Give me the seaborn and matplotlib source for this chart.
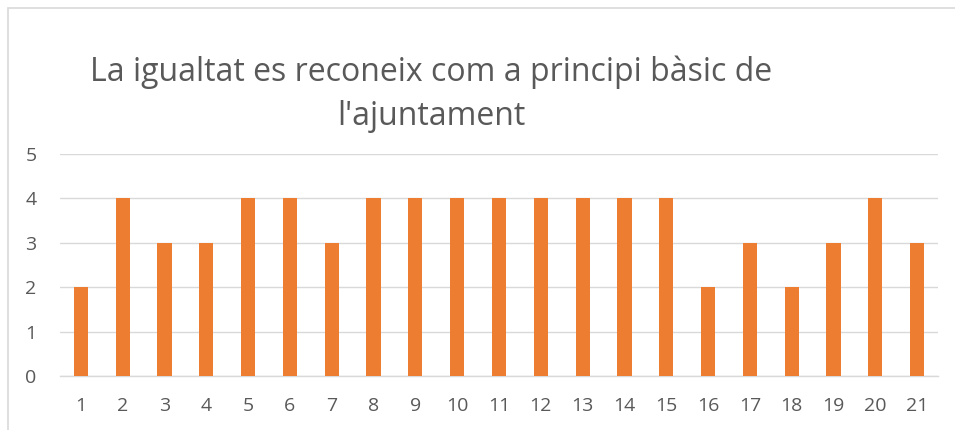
import matplotlib
matplotlib.use("Agg")
import matplotlib.pyplot as plt
import seaborn as sns
import pandas as pd
from matplotlib.patches import Rectangle

categories = [str(i) for i in range(1, 22)]
values = [2, 4, 3, 3, 4, 4, 3, 4, 4, 4, 4, 4, 4, 4, 4, 2, 3, 2, 3, 4, 3]
title_lines = ["La igualtat es reconeix com a principi bàsic de", "l'ajuntament"]

sns.set_theme(style="white")
plt.rcParams['font.family'] = ['Open Sans', 'DejaVu Sans']

df = pd.DataFrame({"cat": categories, "val": values})

fig = plt.figure(figsize=(9.55, 4.3), dpi=100)
ax = fig.add_axes([60/955, 1-376/430, (938-60)/955, (376-154)/430])

sns.barplot(data=df, x="cat", y="val", color="#ED7D31", saturation=1, width=0.34,
            linewidth=0, ax=ax, zorder=3)

ax.set_ylim(0, 5)
ax.set_yticks(range(0, 6))
ax.yaxis.grid(True, color="#d9d9d9", linewidth=1, zorder=0)
ax.set_axisbelow(True)
for s in ["top", "right", "left"]:
    ax.spines[s].set_visible(False)
ax.spines["bottom"].set_color("#d9d9d9")
ax.spines["bottom"].set_linewidth(1)
ax.set_xlabel("")
ax.set_ylabel("")
ax.tick_params(axis="both", length=0, labelsize=14, labelcolor="#595959")
ax.tick_params(axis="y", pad=17)
ax.tick_params(axis="x", pad=15)

fig.text(431/955, 1-72/430, title_lines[0], ha="center", va="center", fontsize=23, color="#595959")
fig.text(431/955, 1-116/430, title_lines[1], ha="center", va="center", fontsize=23, color="#595959")

fig.patches.append(Rectangle((8/955, -0.1), 1.2, 1-8/430+0.1, transform=fig.transFigure,
                             fill=False, edgecolor="#d9d9d9", linewidth=1.2))

fig.savefig("out.png", dpi=100)
